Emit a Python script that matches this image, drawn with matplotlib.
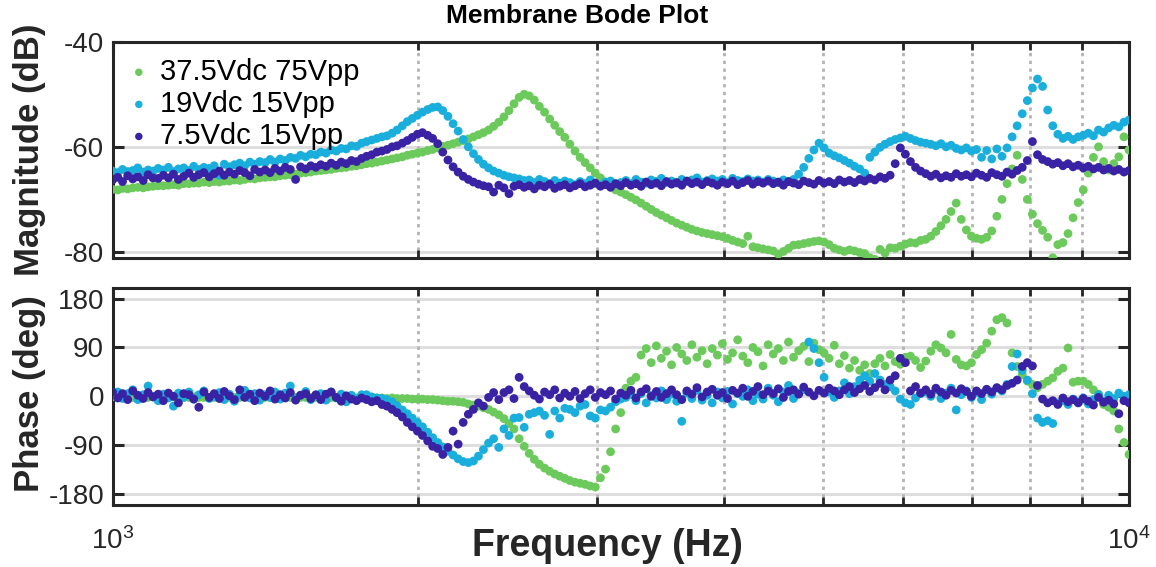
import matplotlib
matplotlib.use("Agg")
import matplotlib.pyplot as plt
from matplotlib.ticker import FixedLocator, NullFormatter

plt.rcParams['font.family'] = ['Liberation Sans', 'DejaVu Sans']
plt.rcParams['mathtext.fontset'] = 'custom'
plt.rcParams['mathtext.rm'] = 'Liberation Sans'

# ---------------- data ----------------
freq = [
    1000, 1012, 1023, 1035, 1047, 1059, 1072, 1084, 1096, 1109,
    1122, 1135, 1148, 1161, 1175, 1189, 1202, 1216, 1230, 1245,
    1259, 1274, 1288, 1303, 1318, 1334, 1349, 1365, 1380, 1396,
    1413, 1429, 1445, 1462, 1479, 1496, 1514, 1531, 1549, 1567,
    1585, 1603, 1622, 1641, 1660, 1679, 1698, 1718, 1738, 1758,
    1778, 1799, 1820, 1841, 1862, 1884, 1905, 1928, 1950, 1972,
    1995, 2018, 2042, 2065, 2089, 2113, 2138, 2163, 2188, 2213,
    2239, 2265, 2291, 2317, 2344, 2371, 2399, 2427, 2455, 2483,
    2512, 2541, 2570, 2600, 2630, 2661, 2692, 2723, 2754, 2786,
    2818, 2851, 2884, 2917, 2951, 2985, 3020, 3055, 3090, 3126,
    3162, 3199, 3236, 3273, 3311, 3350, 3388, 3428, 3467, 3508,
    3548, 3589, 3631, 3673, 3715, 3758, 3802, 3846, 3890, 3936,
    3981, 4027, 4074, 4121, 4169, 4217, 4266, 4315, 4365, 4416,
    4467, 4519, 4571, 4624, 4677, 4732, 4786, 4842, 4898, 4955,
    5012, 5070, 5129, 5188, 5248, 5309, 5370, 5433, 5495, 5559,
    5623, 5689, 5754, 5821, 5888, 5957, 6026, 6095, 6166, 6237,
    6310, 6383, 6457, 6531, 6607, 6683, 6761, 6839, 6918, 6998,
    7079, 7161, 7244, 7328, 7413, 7499, 7586, 7674, 7762, 7852,
    7943, 8035, 8128, 8222, 8318, 8414, 8511, 8610, 8710, 8810,
    8913, 9016, 9120, 9226, 9333, 9441, 9550, 9661, 9772, 9886,
    10000]

labels = ['37.5Vdc 75Vpp', '19Vdc 15Vpp', '7.5Vdc 15Vpp']

mag_375 = [
    -68.1, -68.2, -67.9, -68.0, -67.8, -67.7, -67.8, -67.6, -67.5, -67.4,
    -67.4, -67.3, -67.2, -67.3, -67.0, -67.0, -66.9, -66.9, -66.7, -66.8,
    -66.6, -66.7, -66.5, -66.5, -66.3, -66.4, -66.2, -66.0, -66.1, -65.9,
    -65.8, -65.7, -65.7, -65.5, -65.4, -65.3, -65.2, -65.0, -64.9, -64.8,
    -64.6, -64.5, -64.4, -64.3, -64.1, -64.0, -63.9, -63.7, -63.6, -63.4,
    -63.2, -63.1, -62.9, -62.7, -62.5, -62.3, -62.1, -61.9, -61.6, -61.4,
    -61.2, -61.0, -60.7, -60.5, -60.2, -59.9, -59.7, -59.4, -59.1, -58.8,
    -58.5, -58.1, -57.7, -57.3, -56.8, -56.1, -55.3, -54.3, -53.1, -51.8,
    -50.6, -50.0, -50.3, -51.1, -52.3, -53.4, -54.7, -55.9, -57.1, -58.2,
    -59.5, -60.8, -62.0, -63.0, -64.0, -65.0, -65.9, -66.7, -67.5, -68.2,
    -68.6, -69.1, -69.6, -70.1, -70.7, -71.3, -71.9, -72.5, -73.0, -73.5,
    -74.0, -74.5, -74.9, -75.3, -75.7, -76.0, -76.3, -76.5, -76.7, -76.9,
    -77.1, -77.4, -77.8, -78.1, -78.4, -77.0, -79.0, -79.2, -79.4, -79.6,
    -79.8, -80.4, -79.9, -79.3, -78.7, -78.6, -78.4, -78.2, -78.0, -77.9,
    -78.1, -78.6, -79.3, -79.6, -79.9, -79.6, -79.8, -80.1, -80.3, -81.1,
    -81.4, -79.5, -80.2, -79.2, -79.3, -78.9, -78.5, -78.2, -78.3, -77.8,
    -77.6, -77.0, -76.1, -75.0, -73.8, -72.3, -70.7, -73.8, -75.8, -77.0,
    -77.4, -77.6, -77.2, -76.0, -73.2, -70.0, -67.0, -64.2, -61.6, -66.2,
    -70.0, -72.8, -74.6, -75.9, -77.2, -81.1, -78.6, -78.2, -76.5, -73.5,
    -70.6, -68.2, -65.0, -62.0, -60.0, -62.8, -64.4, -63.2, -61.9, -58.1,
    -60.6]

mag_19 = [
    -64.6, -64.9, -64.3, -64.7, -64.5, -64.0, -64.8, -64.4, -64.6, -64.1,
    -64.4, -63.9, -64.7, -64.2, -64.0, -64.5, -63.7, -64.3, -63.9, -64.1,
    -63.6, -65.4, -63.3, -63.8, -63.4, -63.1, -63.6, -62.9, -63.3, -62.8,
    -63.0, -62.4, -62.9, -62.3, -62.6, -62.0, -62.2, -61.6, -61.9, -61.4,
    -61.5, -61.0, -61.2, -60.6, -60.8, -60.3, -60.4, -59.8, -59.9, -59.3,
    -59.0, -58.7, -58.4, -58.1, -57.9, -57.4, -56.8, -56.0, -55.2, -54.6,
    -54.0, -53.4, -52.9, -52.5, -52.4, -53.1, -54.2, -55.6, -57.0, -58.6,
    -60.0, -61.3, -62.4, -63.3, -64.0, -64.6, -65.0, -65.4, -65.7, -65.9,
    -66.1, -66.4, -66.3, -66.8, -66.2, -66.6, -67.0, -66.4, -66.9, -66.5,
    -66.8, -67.2, -66.6, -67.0, -66.3, -66.9, -67.3, -66.7, -66.5, -67.1,
    -66.8, -66.4, -67.0, -66.2, -66.7, -66.9, -66.3, -66.6, -66.0, -66.8,
    -66.5, -66.9, -66.2, -66.6, -66.3, -65.9, -66.7, -66.4, -66.1, -66.5,
    -66.2, -66.8, -66.0, -66.4, -66.6, -66.1, -66.5, -66.3, -66.7, -66.2,
    -66.5, -66.8, -66.3, -66.6, -66.2, -65.2, -63.9, -62.2, -60.6, -59.3,
    -60.2, -61.2, -61.7, -62.1, -62.6, -63.1, -63.7, -64.2, -65.0, -62.0,
    -61.0, -60.1, -59.5, -59.0, -58.6, -58.3, -58.0, -58.4, -58.8, -59.1,
    -59.3, -59.5, -59.8, -59.4, -60.0, -59.7, -60.3, -60.6, -60.2, -60.8,
    -60.5, -62.0, -60.7, -62.3, -60.4, -61.8, -60.2, -58.1, -56.0, -53.7,
    -51.2, -48.8, -47.1, -48.5, -53.0, -56.0, -57.6, -58.4, -58.0, -58.6,
    -58.1, -57.8, -57.4, -57.9, -56.8, -57.2, -56.4, -55.9, -56.2, -55.3,
    -54.9]

mag_75 = [
    -66.3, -65.8, -66.6, -65.5, -66.1, -65.7, -66.4, -65.3, -65.9, -66.0,
    -65.4, -65.9, -65.2, -66.2, -65.6, -65.0, -65.8, -65.3, -64.9, -65.7,
    -65.1, -64.6, -65.4, -64.8, -65.2, -64.5, -64.9, -65.5, -64.3, -64.8,
    -64.4, -64.9, -64.1, -64.6, -63.9, -64.3, -66.2, -63.8, -64.2, -63.6,
    -63.9, -63.4, -63.7, -63.1, -63.5, -62.9, -63.2, -62.6, -62.8, -62.2,
    -61.8, -61.5, -61.0, -60.8, -60.5, -60.0, -59.8, -59.3, -58.8, -58.2,
    -57.6, -57.3, -57.8, -58.4, -59.4, -61.0, -62.5, -63.8, -64.8, -65.6,
    -66.2, -66.7, -67.1, -67.4, -67.6, -68.6, -67.3, -67.8, -68.9, -67.5,
    -67.2, -67.7, -67.4, -68.0, -67.3, -67.6, -67.1, -67.9, -67.5, -67.2,
    -67.8, -67.4, -67.0, -67.6, -67.3, -66.9, -67.5, -67.2, -67.7, -67.0,
    -67.4, -66.8, -67.3, -67.0, -67.5, -66.7, -67.2, -66.9, -67.4, -66.6,
    -67.1, -66.8, -67.3, -66.5, -67.0, -66.7, -67.2, -66.6, -66.9, -67.3,
    -66.7, -67.0, -66.5, -67.2, -66.8, -66.4, -67.1, -66.6, -66.9, -66.5,
    -67.0, -66.7, -67.3, -66.6, -66.9, -67.2, -66.5, -66.8, -67.1, -66.4,
    -66.9, -66.6, -67.0, -66.3, -66.7, -66.4, -66.8, -66.2, -66.5, -66.0,
    -66.3, -65.7, -66.0, -65.4, -63.2, -60.2, -61.4, -62.8, -63.9, -64.6,
    -65.1, -65.6, -65.2, -65.9, -65.5, -65.8, -65.1, -65.6, -65.3, -65.7,
    -65.0, -65.4, -65.8, -64.9, -65.3, -65.6, -64.8, -65.2, -64.5, -63.9,
    -62.6, -59.0, -61.5, -62.4, -62.8, -63.3, -63.0, -63.6, -63.2, -63.8,
    -63.5, -64.0, -63.7, -64.2, -63.9, -64.4, -64.1, -64.6, -64.3, -64.8,
    -64.5]

ph_375 = [
    -1, -2, -1, -2, -2, -1, -2, -2, -1, -2,
    -2, -2, -1, -2, -2, -2, -1, -2, -2, -2,
    -2, -1, -2, -2, -2, -2, -1, -2, -2, -2,
    -2, -2, -2, -2, -1, -2, -2, -2, -2, -2,
    -2, -2, -3, -2, -2, -3, -2, -3, -3, -3,
    -3, -3, -3, -3, -4, -3, -4, -4, -4, -5,
    -5, -5, -6, -6, -7, -8, -9, -9, -10, -11,
    -14, -16, -18, -21, -24, -29, -34, -41, -50, -60,
    -78, -92, -105, -116, -125, -132, -138, -143, -147, -151,
    -155, -158, -160, -162, -165, -167, -150, -134, -102, -60,
    -30, 15, 28, 35, 76, 88, 62, 93, 70, 83,
    58, 90, 78, 66, 95, 72, 84, 60, 88, 76,
    97, 68, 80, 104, 74, 62, 90, 82, 56, 95,
    78, 88, 66, 100, 72, 84, 92, 64, 98, 86,
    80, 70, 94, 60, 75, 52, 66, 48, 58, 42,
    60, 70, 56, 77, 64, 59, 72, 74, 66, 53,
    65, 83, 95, 89, 80, 114, 68, 58, 56, 62,
    77, 86, 98, 120, 141, 145, 135, 80, 55, 40,
    28, 22, 16, 22, 28, 34, 46, 52, 89, 26,
    28, 28, 22, 12, 4, -15, -20, -27, -60, -85,
    -107]

ph_19 = [
    2, 8, -4, 5, 12, -6, 3, 19, 0, -8,
    4, -3, -18, 6, -2, 8, -5, 3, 10, -4,
    0, 7, -6, 4, -9, 2, 11, -3, 5, -7,
    3, -2, 8, -5, 6, 19, -4, 2, 9, -6,
    1, 5, -7, 8, -3, 4, -10, 2, -5, 3,
    3, -1, -3, -4, -6, -10, -17, -25, -32, -40,
    -48, -56, -66, -76, -85, -93, -101, -108, -115, -120,
    -122, -119, -110, -98, -86, -78, -94, -60, -72, -40,
    -39, -57, -33, -30, -27, -35, -70, -27, -40, -22,
    -24, -30, -18, -15, -36, -40, -25, -27, -20, -10,
    -5, -2, 3, -8, 5, -12, 2, -3, 10, -6,
    4, -9, -46, 6, -4, 11, -7, 2, -12, 8,
    -3, 9, -14, 5, 0, 12, -8, 4, -5, 15,
    2, -10, 8, 20, -4, 6, 12, 100, 88, 62,
    35, 8, -2, 10, 25, 5, 18, 30, 38, 28,
    42, 30, 22, 18, 10, -5, -12, -15, -3, 5,
    8, 0, 12, -4, 6, 15, -25, 3, 10, -2,
    7, -6, 12, 4, 15, 10, 22, 55, 78, 48,
    30, 5, -40, -48, -45, -50, -12, -8, -15, -5,
    -10, -3, -14, -6, 3, -9, 2, -4, 6, 0,
    3]

ph_75 = [
    8, -3, 5, -6, 10, 2, -4, 7, -1, 4,
    -8, 6, 0, -12, 5, 3, -5, -20, 8, -2,
    5, -4, 9, 1, -6, 12, -2, 4, -8, 6,
    0, 10, -5, 3, -3, 7, -7, 2, 5, -4,
    3, -6, 4, 8, -2, -9, 1, -5, -8, -3,
    -6, -10, -8, -15, -18, -24, -30, -38, -48, -56,
    -64, -72, -82, -92, -96, -107, -94, -64, -88, -48,
    -33, -24, -12, -18, -2, 7, -6, 7, 12, -4,
    35, 18, 10, 2, -5, 8, 3, 12, -3, 6,
    0, 9, -4, 5, 12, -2, 7, 3, 10, -5,
    6, 2, 11, -3, 8, 14, 0, 9, -2, 5,
    12, 3, -6, 10, 4, 16, -1, 8, 13, 2,
    7, -4, 11, 6, 15, 0, 9, 18, 3, 10,
    5, 14, -2, 9, 12, 4, 17, 8, 1, 11,
    6, 15, 10, 3, 12, 18, 7, 14, 20, 9,
    16, 24, 12, 30, 38, 70, 62, 10, 18, 6,
    12, 4, 15, 8, 2, 11, 6, 14, 9, 0,
    10, 5, 13, 8, 16, 12, 20, 24, 30, 55,
    62, 56, 20, -5, -12, -8, -15, -3, -10, -6,
    -12, -4, -9, -16, -2, -11, -7, -14, -32, -8,
    -12]

colors = ['#6cc95b', '#1aaedc', '#3a22a5']
mag_series = [mag_375, mag_19, mag_75]
ph_series = [ph_375, ph_19, ph_75]

mag_ticks = [-80, -60, -40]
ph_ticks = [-180, -90, 0, 90, 180]
x_major = [1000, 10000]
x_minor = [2000, 3000, 4000, 5000, 6000, 7000, 8000, 9000]

# ---------------- figure ----------------
W, H = 1156, 567
fig = plt.figure(figsize=(W / 100, H / 100), dpi=100)
L, R = 112.5 / W, 1129 / W
ax1 = fig.add_axes([L, 1 - 258.3 / H, R - L, (258.3 - 41.7) / H])
ax2 = fig.add_axes([L, 1 - 505 / H, R - L, (505 - 287.7) / H])

axcol = '#262626'
ms = 40

for ax, series, yt, ylim in [(ax1, mag_series, mag_ticks, (-81.2, -40)),
                             (ax2, ph_series, ph_ticks, (-200, 200))]:
    for vals, c, lab in zip(series, colors, labels):
        ax.scatter(freq, vals, s=ms, color=c, edgecolors='none', label=lab, zorder=3)
    ax.set_xscale('log')
    ax.set_xlim(1000, 10000)
    ax.set_ylim(*ylim)
    ax.xaxis.set_major_locator(FixedLocator(x_major))
    ax.xaxis.set_minor_locator(FixedLocator(x_minor))
    ax.xaxis.set_minor_formatter(NullFormatter())
    ax.yaxis.set_major_locator(FixedLocator(yt))
    ax.yaxis.set_minor_locator(FixedLocator([]))
    for y in yt:
        ax.axhline(y, color='#dedede', lw=2.2, zorder=1)
    for x in x_minor:
        ax.axvline(x, color='#b4b4b4', lw=2.0, ls=(0, (1.2, 1.6)), zorder=1)
    for s in ax.spines.values():
        s.set_linewidth(2.2)
        s.set_color(axcol)
    ax.tick_params(axis='both', which='major', direction='in', length=8, width=2.2,
                   top=True, right=True, colors=axcol, labelsize=20, labelcolor=axcol)
    ax.tick_params(axis='x', which='minor', direction='in', length=6, width=2.0,
                   top=True, bottom=True, colors=axcol)
    ax.tick_params(axis='y', pad=6)

ax1.set_yticklabels([str(v) for v in mag_ticks])
ax2.set_yticklabels([str(v) for v in ph_ticks])
ax1.tick_params(axis='x', labelbottom=False)
ax2.set_xticklabels([r'$\mathregular{10^3}$', r'$\mathregular{10^4}$'])
ax2.tick_params(axis='x', which='major', pad=16)

fig.text(30 / W, 1 - 150 / H, 'Magnitude (dB)', rotation=90, ha='center', va='center',
         fontsize=25, fontweight='bold', color=axcol)
fig.text(30 / W, 1 - 394 / H, 'Phase (deg)', rotation=90, ha='center', va='center',
         fontsize=25, fontweight='bold', color=axcol)
fig.text(607 / W, 1 - 546 / H, 'Frequency (Hz)', ha='center', va='center',
         fontsize=27, fontweight='bold', color=axcol)
fig.text(577 / W, 1 - 16 / H, 'Membrane Bode Plot', ha='center', va='center',
         fontsize=19, fontweight='bold', color='black')

leg = ax1.legend(loc='upper left', bbox_to_anchor=(0.018, 0.925), frameon=False,
                 fontsize=21, handlelength=0.55, handletextpad=0.45, labelspacing=0.14,
                 borderpad=0, borderaxespad=0, markerscale=0.85)
for t in leg.get_texts():
    t.set_color('black')

fig.savefig('out.png', dpi=100)
